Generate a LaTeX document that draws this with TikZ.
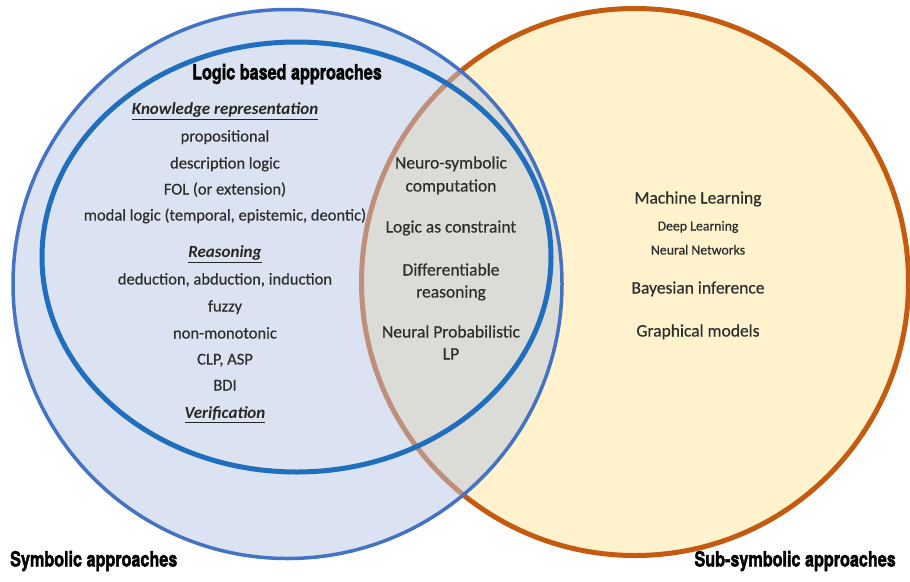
\documentclass[tikz,border=0pt]{standalone}
\usepackage{fontspec}
\usepackage{graphicx}
\setmainfont{Carlito}[BoldFeatures={FakeBold=0.6}]
\newfontfamily\bodyfont{Carlito}[FakeBold=0.35]
\newfontfamily\headfont{TeX Gyre Heros}[BoldFont={* Bold}, BoldFeatures={FakeBold=2.2}]

\definecolor{subFill}{RGB}{255,242,204}
\definecolor{subEdge}{RGB}{197,90,17}
\definecolor{symFill}{RGB}{185,199,229}
\definecolor{symEdge}{RGB}{68,114,196}
\definecolor{logicEdge}{RGB}{31,111,190}
\definecolor{bodyText}{RGB}{45,45,45}

% condensed heavy heading
\newcommand{\heading}[1]{\scalebox{0.77}[1]{\headfont\bfseries #1}}

\tikzset{
  item/.style={inner sep=0pt, text=bodyText, text height=0.72em, text depth=0.22em,
               font=\bodyfont\fontsize{16.5}{20}\selectfont},
  bigitem/.style={item, font=\bodyfont\fontsize{17.5}{21}\selectfont},
  smallitem/.style={item, font=\bodyfont\fontsize{13.8}{17}\selectfont},
  subhead/.style={item, text=black!85, font=\fontsize{17}{20}\selectfont\bfseries\itshape},
  title/.style={inner sep=0pt, text=black, font=\fontsize{21}{24}\selectfont,
                text height=0.72em, text depth=0.02em},
}

\begin{document}
\begin{tikzpicture}[x=1pt,y=-1pt]
\useasboundingbox (0,0) rectangle (910,581);
\fill[white] (0,0) rectangle (910,581);

% sub-symbolic set
\draw[line width=5pt, draw=subEdge, fill=subFill] (635,282) circle[radius=273.5pt];
% symbolic set, translucent so the overlap turns grey
\draw[line width=3.5pt, draw=symEdge, fill=symFill, fill opacity=0.5] (287.5,284) circle[radius=274.5pt];
% logic based approaches
\draw[line width=5pt, draw=logicEdge] (296.5,257) ellipse[x radius=254.5pt, y radius=215pt];

% headings
\node[title] (logic) at (287,76) {\heading{Logic based approaches}};
\node[title, anchor=west] (sym) at (10,563) {\heading{Symbolic approaches}};
\node[title, anchor=east] (subsym) at (896,563) {\heading{Sub-symbolic approaches}};

% logic based approaches: contents
\node[subhead] (kr) at (225,112) {\underline{Knowledge representation}};
\node[item] (prop) at (225,139) {propositional};
\node[item] (desc) at (225,166) {description logic};
\node[item] (fol) at (225,192) {FOL (or extension)};
\node[item] (modal) at (225,218) {modal logic (temporal, epistemic, deontic)};
\node[subhead] (reas) at (225,255) {\underline{Reasoning}};
\node[item] (ded) at (225,282) {deduction, abduction, induction};
\node[item] (fuzzy) at (225,309) {fuzzy};
\node[item] (nonmono) at (225,336) {non-monotonic};
\node[item] (clp) at (225,362) {CLP, ASP};
\node[item] (bdi) at (225,388) {BDI};
\node[subhead] (verif) at (225,416) {\underline{Verification}};

% overlap
\node[bigitem] (ns1) at (451,166) {Neuro-symbolic};
\node[bigitem] (ns2) at (451,189) {computation};
\node[bigitem] (lac) at (451,230) {Logic as constraint};
\node[bigitem] (dr1) at (451,273) {Differentiable};
\node[bigitem] (dr2) at (451,295) {reasoning};
\node[bigitem] (np1) at (451,335) {Neural Probabilistic};
\node[bigitem] (np2) at (451,357) {LP};

% sub-symbolic contents
\node[bigitem] (ml) at (698,201) {Machine Learning};
\node[smallitem] (dl) at (698,228) {Deep Learning};
\node[smallitem] (nn) at (698,252) {Neural Networks};
\node[bigitem] (bayes) at (698,291) {Bayesian inference};
\node[bigitem] (graph) at (698,334) {Graphical models};
\end{tikzpicture}
\end{document}
